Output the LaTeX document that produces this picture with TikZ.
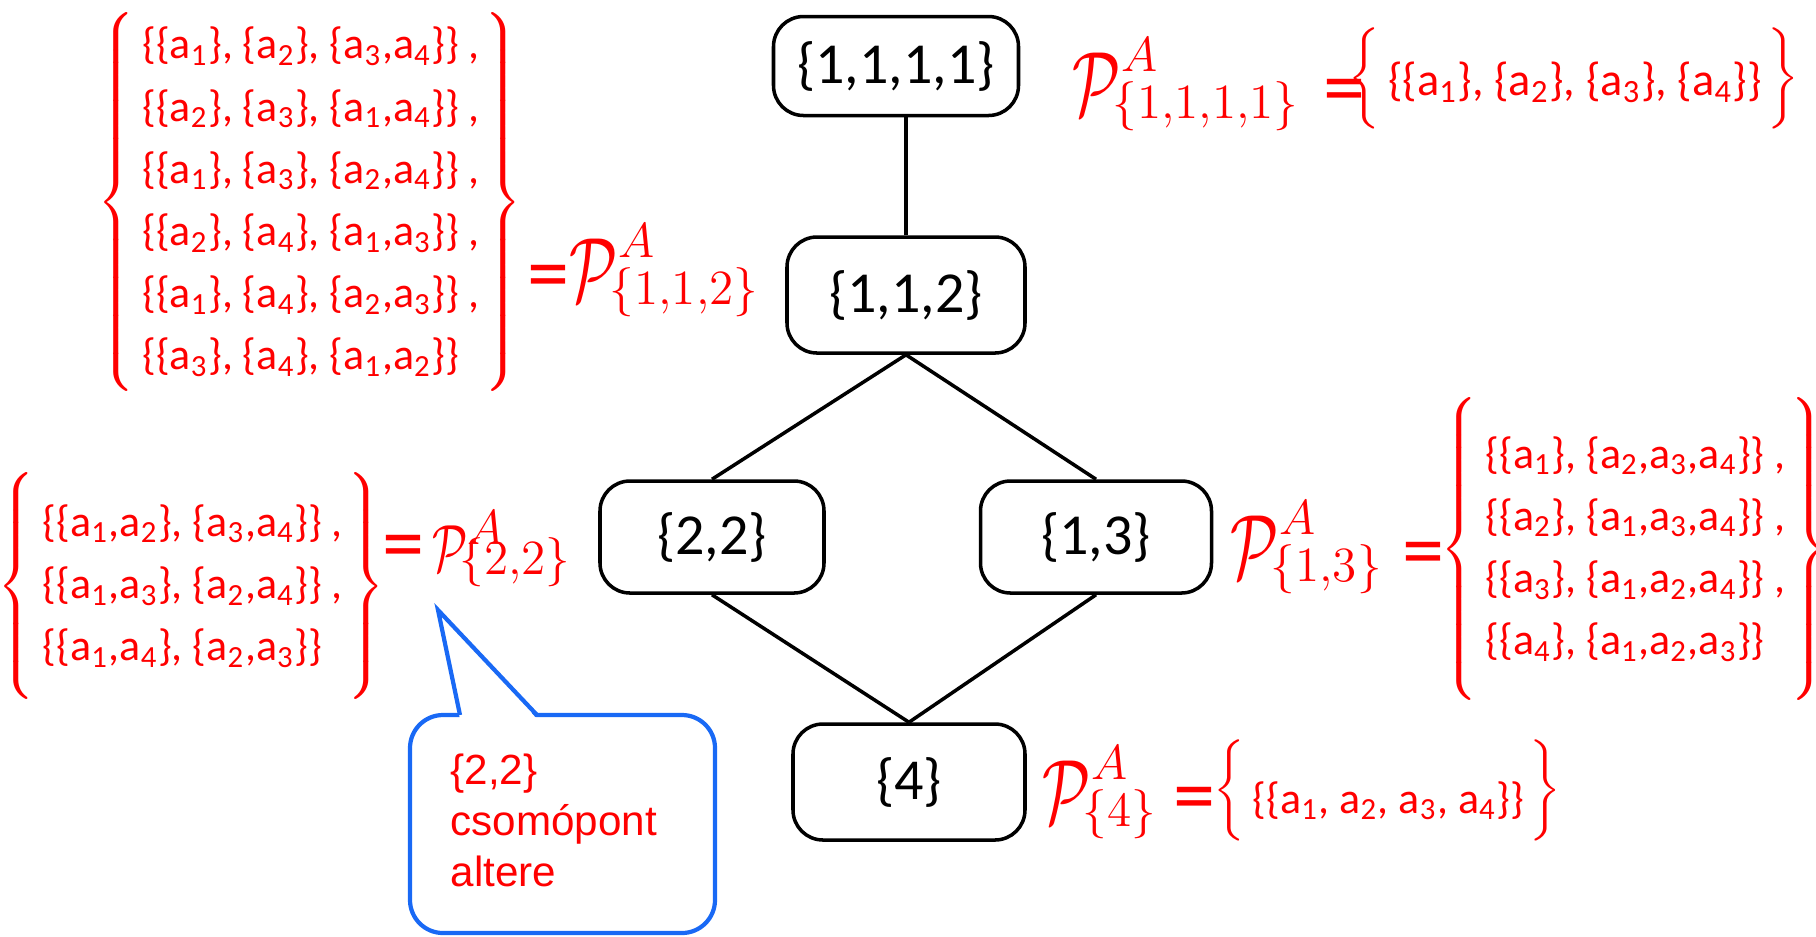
\RequirePackage{fix-cm}
\documentclass[tikz,border=0pt]{standalone}
\usepackage{amsmath}
\usepackage{graphicx}
\usepackage{fontspec}
\newfontfamily\calib{Carlito}
\newfontfamily\arial{Liberation Sans}
\usetikzlibrary{positioning}
\definecolor{callblue}{RGB}{25,105,245}
\newcommand{\el}[1]{a\textsubscript{#1}}
\newcommand{\Eq}{\text{\calib\fontsize{24}{24}\selectfont=}}
\newcommand{\PA}[2][26]{\text{\fontsize{#1}{#1}\selectfont\scalebox{0.68}[1]{$\mathcal{P}$}}^{A}_{\smash{\raisebox{4pt}{$\scriptstyle\mkern-3mu\{#2\}$}}}}
\newcommand{\partlist}[2]{$\left\{\vcenter to #1{}\,\begin{tabular}{@{}l@{}}#2\end{tabular}\mkern2mu\right\}$}
\delimiterfactor=1000 \delimitershortfall=0pt

\begin{document}
\begin{tikzpicture}[x=0.1mm,y=-0.1mm,
    part/.style={draw,line width=1pt,rounded corners=3mm,inner sep=0pt,font=\calib\fontsize{16.5}{20}\selectfont},
    plabel/.style={text=red,inner sep=0pt,anchor=base west,font=\fontsize{20}{24}\selectfont},
    plist/.style={text=red,inner sep=0pt,font=\calib\fontsize{12.5}{17.7}\selectfont},
    callout/.style={draw=callblue,line width=1.2pt}]
  \useasboundingbox (0,0) rectangle (1816,936);
  % lattice of partition types
  \node[part,minimum width=24.5mm,minimum height=9.9mm] (n1111) at (896,66) {\{1,1,1,1\}};
  \node[part,minimum width=23.8mm,minimum height=11.6mm] (n112) at (906,295) {\{1,1,2\}};
  \node[part,minimum width=22.4mm,minimum height=11.2mm] (n22) at (712,537) {\{2,2\}};
  \node[part,minimum width=23.1mm,minimum height=11.2mm] (n13) at (1096,537) {\{1,3\}};
  \node[part,minimum width=23.2mm,minimum height=11.6mm] (n4) at (909,782) {\{4\}};
  % connectors
  \draw[line width=1pt] (n112.north) -- (n112.north |- n1111.south);
  \foreach \up/\dn in {n112/n22,n112/n13,n22/n4,n13/n4}
    \draw[line width=1pt] (\up.south) -- (\dn.north);
  % partition sets
  \node[plabel] (P1111) at (1072,115) {$\PA{1,1,1,1}\mkern6mu\Eq$};
  \node[plist,anchor=west,font=\calib\fontsize{13.2}{17.7}\selectfont] (S1111) at (1348,78) {\partlist{24pt}{\raisebox{-1.5pt}{\{\{\el1\}, \{\el2\}, \{\el3\}, \{\el4\}\}}}};
  \node[plist,anchor=east] (S112) at (523,202) {\partlist{104pt}{%
    \{\{\el1\}, \{\el2\}, \{\el3,\el4\}\} ,\\
    \{\{\el2\}, \{\el3\}, \{\el1,\el4\}\} ,\\
    \{\{\el1\}, \{\el3\}, \{\el2,\el4\}\} ,\\
    \{\{\el2\}, \{\el4\}, \{\el1,\el3\}\} ,\\
    \{\{\el1\}, \{\el4\}, \{\el2,\el3\}\} ,\\
    \{\{\el3\}, \{\el4\}, \{\el1,\el2\}\}}};
  \node[plabel] (P112) at (527,301) {$\Eq\PA{1,1,2}$};
  \node[plist,anchor=east] (S22) at (386,586) {\partlist{62pt}{%
    \{\{\el1,\el2\}, \{\el3,\el4\}\} ,\\
    \{\{\el1,\el3\}, \{\el2,\el4\}\} ,\\
    \{\{\el1,\el4\}, \{\el2,\el3\}\}}};
  \node[plabel] (P22) at (382,571) {$\Eq\mkern2mu\PA[19]{2,2}$};
  \node[plabel] (P13) at (1230,578) {$\PA{1,3}\mkern5mu\Eq$};
  \node[plist,anchor=west] (S13) at (1440,549) {\partlist{80pt}{%
    \{\{\el1\}, \{\el2,\el3,\el4\}\} ,\\
    \{\{\el2\}, \{\el1,\el3,\el4\}\} ,\\
    \{\{\el3\}, \{\el1,\el2,\el4\}\} ,\\
    \{\{\el4\}, \{\el1,\el2,\el3\}\}}};
  \node[plabel] (P4) at (1042,823) {$\PA{4}\mkern4mu\Eq$};
  \node[plist,anchor=west] (S4) at (1213,790) {\partlist{27pt}{\raisebox{-3pt}{\{\{\el1, \el2, \el3, \el4\}\}}}};
  % callout
  \coordinate (tip) at (438,610);
  \draw[callout,rounded corners=3.3mm] (410,715) rectangle (715,933);
  \fill[white] (460,719) -- (tip) -- (537,719) -- cycle;
  \draw[callout] (460,715) -- (tip) -- (537,715);
  \node[anchor=north west,align=left,text=red,inner sep=0pt,font=\arial\fontsize{12}{14.5}\selectfont] (alt) at (450,753) {\{2,2\}\\csomópont\\altere};
\end{tikzpicture}
\end{document}
